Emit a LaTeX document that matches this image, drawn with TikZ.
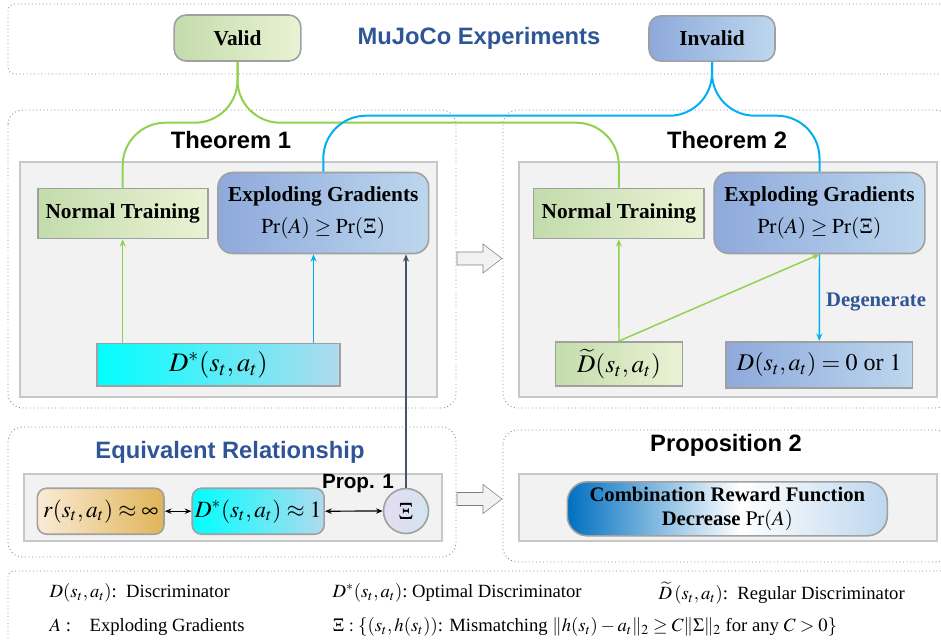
\documentclass[tikz,border=0pt]{standalone}
\usepackage{amsmath}
\usepackage{amssymb}
\usepackage{mathptmx}
\usepackage{fontspec}
\setmainfont{Liberation Serif}
\setsansfont{Liberation Sans}
\usetikzlibrary{arrows.meta,calc}
\definecolor{boxgray}{HTML}{A0A0A0}
\definecolor{headblue}{HTML}{2F5597}
\definecolor{lineg}{HTML}{92D050}
\definecolor{lineb}{HTML}{00B0F0}
\definecolor{slate}{HTML}{44546A}
\definecolor{grnA}{HTML}{C3DCAC}
\definecolor{grnB}{HTML}{EAF2D4}
\definecolor{bluA}{HTML}{8EA9DB}
\definecolor{bluB}{HTML}{BDD7EE}
\definecolor{cyaA}{HTML}{00FFFF}
\definecolor{cyaB}{HTML}{B0DAEE}
\definecolor{sandA}{HTML}{FAEBD7}
\definecolor{sandB}{HTML}{E0B458}
\definecolor{lavA}{HTML}{E2DDF0}
\definecolor{lavB}{HTML}{D4E4F1}
\definecolor{deepblue}{HTML}{0070C0}
\pgfdeclarehorizontalshading{combshade}{100bp}{color(0bp)=(deepblue); color(25bp)=(deepblue); color(52bp)=(white); color(75bp)=(bluB); color(100bp)=(bluB)}

\begin{document}
\begin{tikzpicture}[x=0.75pt,y=-0.75pt,
  dotbox/.style={draw=black!45, dotted, line width=0.7pt, rounded corners=11pt},
  panel/.style={draw=black!22, fill=black!5, line width=0.8pt},
  box/.style={draw=boxgray, line width=1.2pt, inner sep=2pt, align=center, font=\bfseries\fontsize{16}{19}\selectfont},
  greenbox/.style={box, left color=grnA, right color=grnB},
  bluebox/.style={box, left color=bluA, right color=bluB},
  cyanbox/.style={box, left color=cyaA, right color=cyaB},
  headtxt/.style={font=\sffamily\bfseries\fontsize{17.8}{21}\selectfont},
  grnline/.style={lineg, line width=1.5pt, rounded corners=32pt},
  bluline/.style={lineb, line width=1.5pt, rounded corners=32pt},
  arr/.style={-{Stealth[length=5.5pt,width=4.5pt]}, line width=1.1pt},
  legend/.style={anchor=west, font=\fontsize{14}{16}\selectfont}]
\useasboundingbox (0,0) rectangle (941,641);
% frames
\draw[dotbox, rounded corners=5pt] (8,4) rectangle (950,74);
\draw[dotbox] (8,110) rectangle (456,408);
\draw[dotbox] (503,110) rectangle (950,408);
\draw[dotbox] (8,427) rectangle (456,557);
\draw[dotbox] (503,430) rectangle (950,562);
\draw[dotbox, rounded corners=4pt] (8,571) rectangle (950,660);
\draw[panel] (20,162) rectangle (437,397);
\draw[panel] (519,162) rectangle (937,397);
\draw[panel] (24,474) rectangle (442,541);
\draw[panel] (519,474) rectangle (937,541);
% titles
\node[headtxt, text=headblue] (mujoco) at (479,38) {MuJoCo Experiments};
\node[headtxt] (thm1) at (231,140) {Theorem 1};
\node[headtxt] (thm2) at (727,140) {Theorem 2};
\node[headtxt, text=headblue] (equiv) at (230,452) {Equivalent Relationship};
\node[headtxt] (prop2) at (726,445) {Proposition 2};
% top
\node[greenbox, rounded corners=9pt, minimum width=95pt, minimum height=34.5pt] (valid) at (237.5,38) {Valid};
\node[bluebox, rounded corners=9pt, minimum width=94.5pt, minimum height=34pt] (invalid) at (712,38.5) {Invalid};
% theorem 1
\node[greenbox, minimum width=127.5pt, minimum height=37.5pt] (nt1) at (122.7,213.5) {Normal Training};
\node[bluebox, rounded corners=11pt, minimum width=158pt, minimum height=60.75pt] (eg1) at (323.3,213) {Exploding Gradients\\[5pt] \mdseries $\Pr(A)\geq\Pr(\Xi)$};
\node[cyanbox, minimum width=182pt, minimum height=32pt, font=\fontsize{20}{24}\selectfont] (dstar) at (218.5,364.7) {$D^{*}(s_t,a_t)$};
% theorem 2
\node[greenbox, minimum width=128pt, minimum height=37.5pt] (nt2) at (618.8,213.5) {Normal Training};
\node[bluebox, rounded corners=11pt, minimum width=158pt, minimum height=60.75pt] (eg2) at (819.5,213) {Exploding Gradients\\[5pt] \mdseries $\Pr(A)\geq\Pr(\Xi)$};
\node[greenbox, minimum width=95pt, minimum height=33pt, font=\fontsize{19}{22}\selectfont] (dtil) at (619,363.8) {$\widetilde{D}(s_t,a_t)$};
\node[bluebox, minimum width=140pt, minimum height=34.5pt, font=\fontsize{18}{22}\selectfont] (dzero) at (819.3,364.7) {$D(s_t,a_t)=0$ or $1$};
\node[font=\bfseries\fontsize{15.5}{18}\selectfont, text=headblue] (degen) at (876,301.7) {Degenerate};
% equivalent relationship
\node[box, rounded corners=7pt, left color=sandA, right color=sandB, minimum width=95pt, minimum height=34.5pt, font=\fontsize{17.5}{21}\selectfont] (rinf) at (100.7,511.2) {$r(s_t,a_t)\approx\infty$};
\node[cyanbox, rounded corners=7pt, minimum width=94.5pt, minimum height=34.5pt, font=\fontsize{17.5}{21}\selectfont] (done) at (258.2,511.2) {$D^{*}(s_t,a_t)\approx 1$};
\node[box, circle, left color=lavA, right color=lavB, minimum size=33.75pt, inner sep=0pt, font=\fontsize{18}{20}\selectfont] (xi) at (406,511) {$\Xi$};
\node[font=\sffamily\bfseries\fontsize{15.5}{18}\selectfont] (prop1) at (358,483.3) {Prop. 1};
% proposition 2
\node[box, rounded corners=15pt, shade, shading=combshade, minimum width=240pt, minimum height=40.5pt, font=\bfseries\fontsize{15.5}{17.5}\selectfont] (comb) at (727.3,508.8) {Combination Reward Function\\ Decrease \mdseries$\Pr(A)$};
% block arrows
\draw[draw=black!50, fill=black!5] (457,252) -- (483,252) -- (483,244) -- (502,258.5) -- (483,273) -- (483,265) -- (457,265) -- cycle;
\draw[draw=black!50, fill=black!5] (457,492.5) -- (483,492.5) -- (483,484.5) -- (502,499) -- (483,513.5) -- (483,505.5) -- (457,505.5) -- cycle;
% connectors
\draw[grnline] (valid.south) |- ($(nt1.north)+(0,-65)$) -- (nt1.north);
\draw[grnline] (valid.south) |- ($(nt2.north)+(0,-65)$) -- (nt2.north);
\draw[bluline] (invalid.south) |- ($(eg1.north)+(0,-56)$) -- (eg1.north);
\draw[bluline] (invalid.south) |- ($(eg2.north)+(0,-56)$) -- (eg2.north);
\coordinate (dsb) at ($(dstar.north)+(95,0)$);
\draw[arr, lineg] (nt1.south |- dstar.north) -- (nt1.south);
\draw[arr, lineb] (dsb) -- (dsb |- eg1.south);
\draw[arr, slate] (xi.north) -- (xi.north |- eg1.south);
\draw[arr, lineg] (dtil.north) -- (nt2.south);
\draw[arr, lineg] (dtil.north) -- (eg2.south);
\draw[arr, lineb] (eg2.south) -- (dzero.north);
\draw[{Stealth[length=5pt,width=4pt]}-{Stealth[length=5pt,width=4pt]}, line width=0.9pt] (rinf.east) -- (done.west);
\draw[{Stealth[length=5pt,width=4pt]}-{Stealth[length=5pt,width=4pt]}, line width=0.9pt] (done.east) -- (xi.west);
% legend
\node[legend] (lgD) at (45,593) {$D(s_t,a_t)$:\ \ Discriminator};
\node[legend] (lgDs) at (328,593) {$D^{*}(s_t,a_t)$:\ Optimal Discriminator};
\node[legend] (lgDt) at (654,593) {$\widetilde{D}\,(s_t,a_t)$:\ \ Regular Discriminator};
\node[legend] (lgA) at (45,627) {$A$ :\quad Exploding Gradients};
\node[legend] (lgXi) at (328,627) {$\Xi:\{(s_t,h(s_t))$: Mismatching $\|h(s_t)-a_t\|_2\geq C\|\Sigma\|_2$ for any $C>0\}$};
\end{tikzpicture}
\end{document}
